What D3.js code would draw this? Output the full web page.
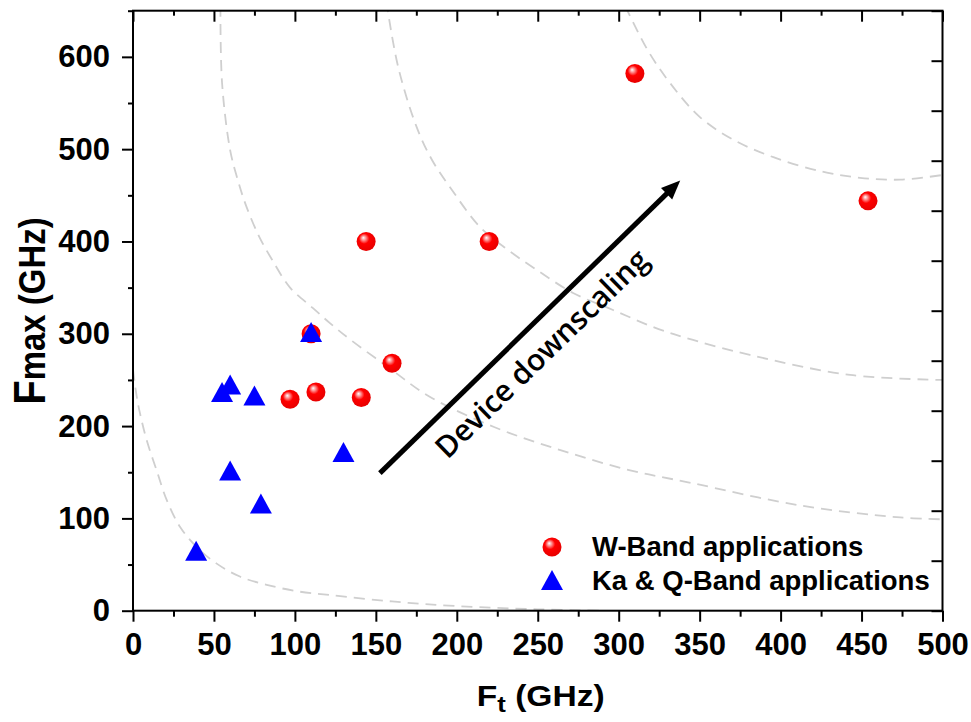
<!DOCTYPE html>
<html><head><meta charset="utf-8">
<script src="https://cdn.jsdelivr.net/npm/d3@7/dist/d3.min.js"></script>
<style>body{margin:0;background:#fff}svg{display:block}</style>
</head><body><div id="chart"></div>
<script>
// ---------- data ----------
const wBandFt   = [310, 454, 220, 144, 110, 160, 113, 97, 141];
const wBandFmax = [582, 444, 400, 400, 300, 268, 237, 229, 231];
const kaQFt     = [110, 55, 60, 75, 130, 60, 79, 39];
const kaQFmax   = [302, 237, 245, 233, 172, 152, 116, 65];

const xTicks = [0, 50, 100, 150, 200, 250, 300, 350, 400, 450, 500];
const xMinor = [25, 75, 125, 175, 225, 275, 325, 375, 425, 475];
const yTicks = [0, 100, 200, 300, 400, 500, 600];
const yMinor = [50, 150, 250, 350, 450, 550, 650];
const rightTicks = [0, 1, 2, 3, 4, 5, 6, 7, 8, 9, 10, 11, 12];

// dashed guide curves
const curve1Ft   = [0, 2.3, 4.3, 8.4, 14.6, 20.8, 29, 39.3, 51.7, 66, 82.6, 103, 121.7, 160, 200, 250, 290];
const curve1Fmax = [261, 232, 214, 185, 152, 120, 91, 69, 51, 37, 28, 20.6, 17, 10, 5, 1.5, 0];
const curve2Ft   = [54, 55, 60, 65, 70, 78, 86, 97, 111, 122, 134, 159, 183, 223, 264, 305, 346, 412, 474, 500];
const curve2Fmax = [655, 572, 499, 465, 438, 405, 380, 350, 328, 311, 294, 262, 232, 199, 174, 153, 138, 114, 101, 99];
const curve3Ft   = [156.5, 163.7, 175.4, 184.7, 197, 214.3, 231.6, 249.5, 271.8, 296.5, 321.2, 345.9, 381, 442.9, 500];
const curve3Fmax = [660, 589.7, 523, 488.3, 455.8, 415.7, 390.8, 369.1, 344.2, 325.8, 307.4, 293.3, 277.1, 255.4, 250];
const curve4Ft   = [304, 318, 332, 350, 371, 396, 425, 449, 474, 500];
const curve4Fmax = [655, 607, 571, 535, 510, 491, 476, 469, 467, 472];

const arrowFrom = [152.5, 149];
const arrowTo   = [338, 466];
const annotationText = "Device downscaling";
const annotationPos = [257, 270.5];
const legendLabels = ["W-Band applications", "Ka & Q-Band applications"];

// ---------- layout ----------
const W = 971, H = 722;
const L = 133, R = 942.5, T = 10.7, B = 610.7;
const svg = d3.select("#chart").append("svg").attr("width", W).attr("height", H);
const x = d3.scaleLinear().domain([0, 500]).range([L, R]);
const y = d3.scaleLinear().domain([0, 650]).range([B, T]);
const y2 = d3.scaleLinear().domain([0, 12]).range([B, T]);

const defs = svg.append("defs");
const grad = defs.append("radialGradient").attr("id", "ball")
  .attr("cx", "45%").attr("cy", "42%").attr("r", "60%").attr("fx", "35%").attr("fy", "30%");
grad.append("stop").attr("offset", "0%").attr("stop-color", "#ffffff");
grad.append("stop").attr("offset", "18%").attr("stop-color", "#ff9a9a");
grad.append("stop").attr("offset", "45%").attr("stop-color", "#ff0000");
grad.append("stop").attr("offset", "100%").attr("stop-color", "#e60000");
defs.append("clipPath").attr("id", "plotclip").append("rect")
  .attr("x", L).attr("y", T).attr("width", R - L).attr("height", B - T);

// ---------- dashed curves ----------
const line = d3.line().x(d => x(d[0])).y(d => y(d[1])).curve(d3.curveCatmullRom.alpha(0.5));
const curves = [[curve1Ft, curve1Fmax], [curve2Ft, curve2Fmax], [curve3Ft, curve3Fmax], [curve4Ft, curve4Fmax]];
const cg = svg.append("g").attr("clip-path", "url(#plotclip)");
curves.forEach(([xs, ys]) => {
  cg.append("path").datum(xs.map((v, i) => [v, ys[i]]))
    .attr("d", line).attr("fill", "none").attr("stroke", "#cfcfcf")
    .attr("stroke-width", 1.8).attr("stroke-dasharray", "11,7");
});

// ---------- axes ----------
const font = "'Liberation Sans', Arial, sans-serif";
function styleAxis(g) {
  g.select(".domain").remove();
  g.selectAll(".tick line").attr("stroke", "#000").attr("stroke-width", 2);
  g.selectAll(".tick text").attr("font-family", font).attr("font-weight", "bold")
    .attr("font-size", 31).attr("fill", "#000");
}
svg.append("g").attr("transform", `translate(0,${B})`)
  .call(d3.axisBottom(x).tickValues(xTicks).tickSize(11).tickPadding(11).tickFormat(d3.format("d"))).call(styleAxis);
svg.append("g").attr("transform", `translate(0,${B})`)
  .call(d3.axisBottom(x).tickValues(xMinor).tickSize(6).tickFormat("")).call(styleAxis);
svg.append("g").attr("transform", `translate(${L},0)`)
  .call(d3.axisLeft(y).tickValues(yTicks).tickSize(11).tickPadding(12).tickFormat(d3.format("d"))).call(styleAxis);
svg.append("g").attr("transform", `translate(${L},0)`)
  .call(d3.axisLeft(y).tickValues(yMinor).tickSize(5).tickFormat("")).call(styleAxis);
svg.append("g").attr("transform", `translate(0,${T})`)
  .call(d3.axisTop(x).tickValues(xTicks).tickSize(-11).tickFormat("")).call(styleAxis);
svg.append("g").attr("transform", `translate(0,${T})`)
  .call(d3.axisTop(x).tickValues(xMinor).tickSize(-5).tickFormat("")).call(styleAxis);
svg.append("g").attr("transform", `translate(${R},0)`)
  .call(d3.axisRight(y2).tickValues(rightTicks).tickSize(-11).tickFormat("")).call(styleAxis);

// frame
svg.append("rect").attr("x", L).attr("y", T).attr("width", R - L).attr("height", B - T)
  .attr("fill", "none").attr("stroke", "#000").attr("stroke-width", 2);

// ---------- axis titles ----------
const xt = svg.append("text").attr("font-family", font).attr("font-weight", "bold")
  .attr("text-anchor", "middle").attr("transform", `translate(${(L + R) / 2 + 3},706) scale(1.12,1)`);
xt.append("tspan").attr("font-size", 30).text("F");
xt.append("tspan").attr("font-size", 23).attr("dy", 6).text("t");
xt.append("tspan").attr("font-size", 30).attr("dy", -6).text(" (GHz)");

const yt = svg.append("text").attr("font-family", font).attr("font-weight", "bold")
  .attr("text-anchor", "middle").attr("transform", `translate(45,311) rotate(-90) scale(1,1.12)`);
yt.append("tspan").attr("font-size", 40).text("F");
yt.append("tspan").attr("font-size", 33).text("max");
yt.append("tspan").attr("font-size", 33).text(" (GHz)");

// ---------- points ----------
const tri = (cx, cy) => `M${cx - 11},${cy + 10}L${cx + 11},${cy + 10}L${cx},${cy - 10}Z`;
svg.append("g").selectAll("circle").data(wBandFt.map((v, i) => [v, wBandFmax[i]])).join("circle")
  .attr("cx", d => x(d[0])).attr("cy", d => y(d[1])).attr("r", 9.5).attr("fill", "url(#ball)");
svg.append("g").selectAll("path").data(kaQFt.map((v, i) => [v, kaQFmax[i]])).join("path")
  .attr("d", d => tri(x(d[0]), y(d[1]))).attr("fill", "#0000ff");

// ---------- arrow annotation ----------
const ax0 = x(arrowFrom[0]), ay0 = y(arrowFrom[1]), ax1 = x(arrowTo[0]), ay1 = y(arrowTo[1]);
const len = Math.hypot(ax1 - ax0, ay1 - ay0), ux = (ax1 - ax0) / len, uy = (ay1 - ay0) / len;
const headL = 19, headW = 8;
const bx = ax1 - ux * headL, by = ay1 - uy * headL;
svg.append("line").attr("x1", ax0).attr("y1", ay0).attr("x2", bx + ux * 2).attr("y2", by + uy * 2)
  .attr("stroke", "#000").attr("stroke-width", 5);
svg.append("path").attr("d", `M${ax1},${ay1}L${bx - uy * headW},${by + ux * headW}L${bx + uy * headW},${by - ux * headW}Z`)
  .attr("fill", "#000");
const ang = Math.atan2(ay1 - ay0, ax1 - ax0) * 180 / Math.PI;
svg.append("text").attr("font-family", "'Open Sans', sans-serif").attr("font-weight", 600)
  .attr("font-size", 30).attr("text-anchor", "middle")
  .attr("transform", `translate(${x(annotationPos[0])},${y(annotationPos[1])}) rotate(${ang})`)
  .text(annotationText);

// ---------- legend ----------
const lg = svg.append("g");
lg.append("circle").attr("cx", 552).attr("cy", 547).attr("r", 9.5).attr("fill", "url(#ball)");
lg.append("path").attr("d", tri(552, 580)).attr("fill", "#0000ff");
legendLabels.forEach((t, i) => {
  lg.append("text").attr("x", 592).attr("y", 556 + i * 34).attr("font-family", font)
    .attr("font-weight", "bold").attr("font-size", 27.5).text(t);
});
</script></body></html>
